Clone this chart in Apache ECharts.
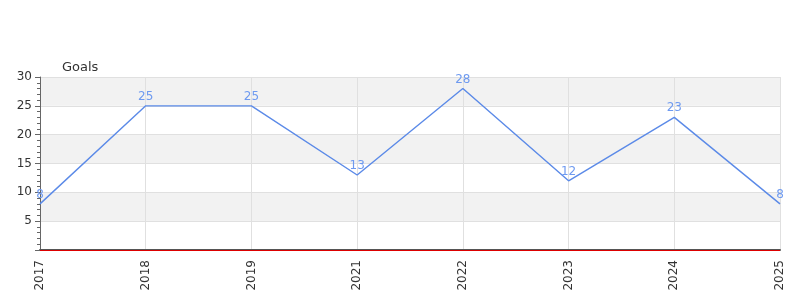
<!DOCTYPE html>
<html><head><meta charset="utf-8">
<script src="https://cdn.jsdelivr.net/npm/echarts@6/dist/echarts.min.js"></script>
<style>html,body{margin:0;padding:0;background:#fff}#c{width:800px;height:300px}</style>
</head><body><div id="c"></div>
<script>
var years = ['2017','2018','2019','2021','2022','2023','2024','2025'];
var goals = [8, 25, 25, 13, 28, 12, 23, 8];
var yName = 'Goals';

var chart = echarts.init(document.getElementById('c'), null, {renderer:'canvas'});
chart.setOption({
  animation: false,
  grid: {left: 40, right: 20, top: 77, bottom: 50, containLabel: false},
  xAxis: {
    type: 'category', data: years, boundaryGap: false,
    axisLine: {lineStyle: {color: '#555', width: 2}},
    axisTick: {show: false},
    axisLabel: {rotate: 90, color: '#333', fontSize: 12, fontFamily: 'DejaVu Sans', margin: 10},
    splitLine: {show: true, lineStyle: {color: '#e0e0e0'}}
  },
  yAxis: {
    type: 'value', min: 0, max: 30, interval: 5,
    name: yName, nameLocation: 'end', nameGap: 3,
    nameTextStyle: {color: '#333', fontSize: 13, fontFamily: 'DejaVu Sans', align: 'left', padding: [0,0,0,22]},
    axisLine: {show: true, lineStyle: {color: '#666'}},
    axisTick: {show: true, length: 5, lineStyle: {color: '#666'}},
    minorTick: {show: true, splitNumber: 5, length: 3, lineStyle: {color: '#666'}},
    axisLabel: {color: '#333', fontSize: 12, fontFamily: 'DejaVu Sans', margin: 8,
      formatter: function(v){ return v === 0 ? '' : v; }},
    splitLine: {show: true, lineStyle: {color: '#e0e0e0'}},
    splitArea: {show: true, areaStyle: {color: ['#ffffff', '#f2f2f2']}}
  },
  series: [{
    type: 'line', data: goals, clip: false, z: 5,
    showSymbol: true, symbol: 'circle', symbolSize: 0,
    lineStyle: {color: '#5b8ae8', width: 1.4},
    itemStyle: {color: '#5b8ae8'},
    label: {show: true, position: 'top', color: '#6e9af0', fontSize: 12, fontFamily: 'DejaVu Sans', distance: 3},
    markLine: {silent: true, symbol: 'none', z: 10, label: {show: false},
      lineStyle: {color: '#d00', type: 'solid', width: 1},
      data: [{yAxis: 0}]}
  }]
});
</script></body></html>
